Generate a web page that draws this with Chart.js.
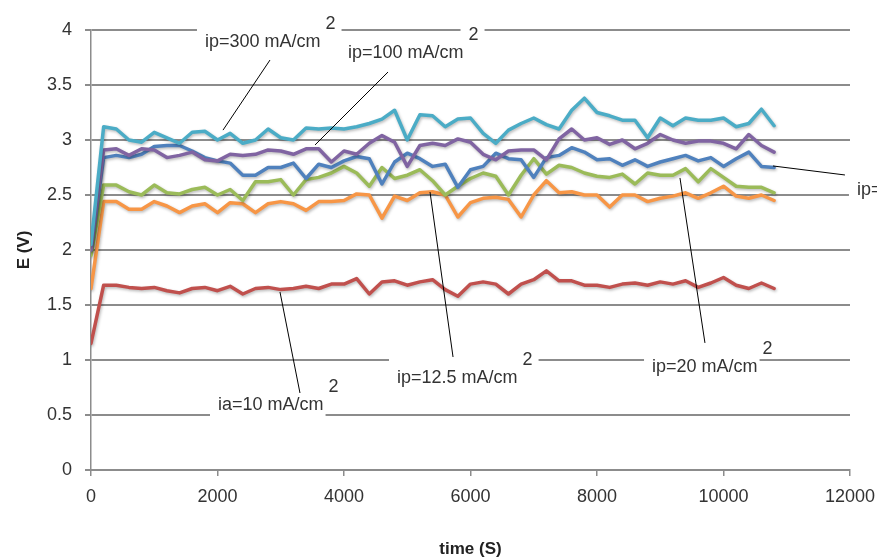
<!DOCTYPE html>
<html>
<head>
<meta charset="utf-8">
<script src="https://cdn.jsdelivr.net/npm/chart.js@4"></script>
<style>
  html, body { margin: 0; padding: 0; background: #fff; }
</style>
</head>
<body>
<canvas id="chart" width="877" height="558"></canvas>
<script>
// sampling times (s)
const times = [0, 200, 400, 600, 800, 1000, 1200, 1400, 1600, 1800, 2000, 2200, 2400, 2600, 2800, 3000,
  3200, 3400, 3600, 3800, 4000, 4200, 4400, 4600, 4800, 5000, 5200, 5400, 5600, 5800, 6000, 6200,
  6400, 6600, 6800, 7000, 7200, 7400, 7600, 7800, 8000, 8200, 8400, 8600, 8800, 9000, 9200, 9400,
  9600, 9800, 10000, 10200, 10400, 10600, 10800];

// E (V) for each current density
const ip300 = [2.05, 3.12, 3.1, 3.0, 2.98, 3.07, 3.02, 2.97, 3.07, 3.08, 3.0, 3.06, 2.97, 3.0, 3.1, 3.02,
  3.0, 3.11, 3.1, 3.11, 3.1, 3.12, 3.15, 3.19, 3.27, 3.0, 3.23, 3.22, 3.12, 3.19, 3.2, 3.06,
  2.97, 3.09, 3.15, 3.2, 3.14, 3.1, 3.27, 3.38, 3.25, 3.22, 3.18, 3.18, 3.02, 3.2, 3.13, 3.2,
  3.18, 3.18, 3.2, 3.12, 3.15, 3.28, 3.13];
const ip100 = [2.0, 2.91, 2.92, 2.86, 2.92, 2.91, 2.84, 2.86, 2.89, 2.82, 2.81, 2.87, 2.86, 2.87, 2.91, 2.9,
  2.87, 2.92, 2.92, 2.8, 2.9, 2.87, 2.97, 3.04, 2.98, 2.76, 2.95, 2.97, 2.95, 3.01, 2.98, 2.87,
  2.82, 2.9, 2.91, 2.91, 2.82, 3.01, 3.1, 3.0, 3.02, 2.96, 3.0, 2.92, 2.97, 3.05, 3.0, 2.97,
  2.99, 2.99, 2.97, 2.92, 3.05, 2.95, 2.89];
const ipRight = [2.0, 2.84, 2.86, 2.84, 2.87, 2.94, 2.95, 2.95, 2.9, 2.84, 2.81, 2.79, 2.68, 2.68, 2.75, 2.75,
  2.79, 2.65, 2.78, 2.75, 2.81, 2.85, 2.83, 2.6, 2.8, 2.88, 2.83, 2.76, 2.78, 2.57, 2.73, 2.76,
  2.88, 2.83, 2.82, 2.66, 2.84, 2.86, 2.93, 2.89, 2.82, 2.83, 2.77, 2.82, 2.76, 2.8, 2.83, 2.86,
  2.81, 2.84, 2.76, 2.83, 2.89, 2.76, 2.75];
const ip20 = [1.95, 2.59, 2.59, 2.53, 2.5, 2.59, 2.52, 2.51, 2.55, 2.57, 2.5, 2.55, 2.45, 2.62, 2.62, 2.64,
  2.5, 2.64, 2.66, 2.7, 2.76, 2.7, 2.58, 2.75, 2.65, 2.68, 2.73, 2.63, 2.5, 2.58, 2.65, 2.7,
  2.67, 2.5, 2.68, 2.83, 2.69, 2.77, 2.75, 2.7, 2.67, 2.66, 2.69, 2.6, 2.7, 2.68, 2.68, 2.74,
  2.62, 2.74, 2.66, 2.58, 2.57, 2.57, 2.52];
const ip12_5 = [1.65, 2.44, 2.44, 2.37, 2.37, 2.44, 2.4, 2.34, 2.4, 2.42, 2.34, 2.43, 2.42, 2.34, 2.42, 2.44,
  2.42, 2.36, 2.44, 2.44, 2.45, 2.51, 2.5, 2.29, 2.49, 2.45, 2.52, 2.53, 2.5, 2.3, 2.43, 2.47,
  2.48, 2.46, 2.3, 2.5, 2.63, 2.52, 2.53, 2.5, 2.5, 2.39, 2.5, 2.5, 2.44, 2.47, 2.49, 2.52,
  2.47, 2.52, 2.58, 2.49, 2.47, 2.5, 2.45];
const ia10 = [1.15, 1.68, 1.68, 1.66, 1.65, 1.66, 1.63, 1.61, 1.65, 1.66, 1.63, 1.67, 1.6, 1.65, 1.66, 1.64,
  1.65, 1.67, 1.65, 1.69, 1.69, 1.74, 1.6, 1.71, 1.72, 1.68, 1.71, 1.73, 1.64, 1.58, 1.69, 1.71,
  1.69, 1.6, 1.69, 1.73, 1.81, 1.72, 1.72, 1.68, 1.68, 1.66, 1.69, 1.7, 1.68, 1.71, 1.69, 1.72,
  1.66, 1.7, 1.75, 1.68, 1.65, 1.7, 1.65];

const xTickLabels = ['0', '2000', '4000', '6000', '8000', '10000', '12000'];
const yTickLabels = ['0', '0.5', '1', '1.5', '2', '2.5', '3', '3.5', '4'];

// callout labels, placed in data units: text anchor (left, middle) and leader line
const callouts = [
  { text: 'ip=300 mA/cm', sup: '2', at: [1802, 3.891], line: [[2830, 3.727], [2087, 3.09]] },
  { text: 'ip=100 mA/cm', sup: '2', at: [4063, 3.791], line: [[4696, 3.618], [3542, 2.955]] },
  { text: 'ip=', sup: '', at: [12110, 2.545], line: [[10782, 2.764], [11920, 2.682]] },
  { text: 'ip=12.5 mA/cm', sup: '2', at: [4838, 0.836], line: [[5360, 2.527], [5724, 1.027]] },
  { text: 'ia=10 mA/cm', sup: '2', at: [2008, 0.591], line: [[2988, 1.618], [3304, 0.70]] },
  { text: 'ip=20 mA/cm', sup: '2', at: [8870, 0.936], line: [[9312, 2.655], [9707, 1.155]] }
];

function pts(vals) {
  return vals.map((v, i) => ({ x: times[i], y: v }));
}

function series(label, vals, color) {
  return {
    label: label,
    data: pts(vals),
    borderColor: color,
    backgroundColor: color,
    borderWidth: 3.5,
    pointRadius: 0,
    tension: 0,
    borderJoinStyle: 'round',
    borderCapStyle: 'round'
  };
}

const gridGray = '#8c8c8c';
const labelFont = '18px "Liberation Sans", Arial, sans-serif';

const lineShadow = {
  id: 'lineShadow',
  beforeDatasetDraw(chart) {
    const c = chart.ctx;
    c.save();
    c.shadowColor = 'rgba(0,0,0,0.28)';
    c.shadowBlur = 3;
    c.shadowOffsetX = 1;
    c.shadowOffsetY = 1.5;
  },
  afterDatasetDraw(chart) {
    chart.ctx.restore();
  }
};

const calloutPlugin = {
  id: 'callouts',
  afterDraw(chart) {
    const ctx = chart.ctx;
    const x = chart.scales.x, y = chart.scales.y;
    ctx.save();
    ctx.font = labelFont;
    ctx.textBaseline = 'middle';
    // white boxes that hide the gridlines behind the labels
    ctx.fillStyle = '#fff';
    callouts.forEach(c => {
      const tx = x.getPixelForValue(c.at[0]), ty = y.getPixelForValue(c.at[1]);
      const w = ctx.measureText(c.text).width;
      ctx.fillRect(tx - 8, ty - 21, w + 10, 34);
      if (c.sup) {
        const sw = ctx.measureText(c.sup).width;
        ctx.fillRect(tx + w + 5 - 8, ty - 18 - 10, sw + 14, 20);
      }
    });
    // leader lines
    ctx.strokeStyle = '#000';
    ctx.lineWidth = 1;
    callouts.forEach(c => {
      ctx.beginPath();
      ctx.moveTo(x.getPixelForValue(c.line[0][0]), y.getPixelForValue(c.line[0][1]));
      ctx.lineTo(x.getPixelForValue(c.line[1][0]), y.getPixelForValue(c.line[1][1]));
      ctx.stroke();
    });
    ctx.fillStyle = '#333';
    callouts.forEach(c => {
      const tx = x.getPixelForValue(c.at[0]), ty = y.getPixelForValue(c.at[1]);
      const w = ctx.measureText(c.text).width;
      ctx.fillText(c.text, tx, ty);
      if (c.sup) ctx.fillText(c.sup, tx + w + 5, ty - 18);
    });
    ctx.restore();
  }
};

new Chart(document.getElementById('chart'), {
  type: 'line',
  data: {
    datasets: [
      series('ip=300 mA/cm2', ip300, '#4BACC6'),
      series('ip=100 mA/cm2', ip100, '#8064A2'),
      series('ip=', ipRight, '#4F81BD'),
      series('ip=20 mA/cm2', ip20, '#9BBB59'),
      series('ip=12.5 mA/cm2', ip12_5, '#F79646'),
      series('ia=10 mA/cm2', ia10, '#C0504D')
    ]
  },
  options: {
    responsive: false,
    animation: false,
    layout: { padding: { top: 30, right: 27, left: 0, bottom: 0 } },
    plugins: {
      legend: { display: false },
      tooltip: { enabled: false }
    },
    scales: {
      x: {
        type: 'linear',
        min: 0,
        max: 12000,
        afterFit(scale) {
          scale.height = 88;
          scale.paddingLeft = 0;
          scale.paddingRight = 0;
        },
        ticks: {
          stepSize: 2000,
          padding: 10,
          color: '#333',
          font: { family: '"Liberation Sans", Arial, sans-serif', size: 18 },
          maxRotation: 0,
          callback: (v, i) => xTickLabels[i]
        },
        grid: { drawOnChartArea: false, drawTicks: true, tickLength: 6, color: gridGray, lineWidth: 1.5 },
        border: { display: true, color: gridGray, width: 2 },
        title: {
          display: true,
          text: 'time (S)',
          color: '#222',
          font: { family: '"Liberation Sans", Arial, sans-serif', size: 17, weight: 'bold' },
          padding: { top: 0, bottom: -2 }
        }
      },
      y: {
        min: 0,
        max: 4,
        afterFit(scale) { scale.width = 91; },
        ticks: {
          stepSize: 0.5,
          padding: 13,
          color: '#333',
          font: { family: '"Liberation Sans", Arial, sans-serif', size: 18 },
          callback: (v, i) => yTickLabels[i]
        },
        grid: { color: gridGray, lineWidth: 2, tickLength: 6 },
        border: { display: true, color: gridGray, width: 1.5 },
        title: {
          display: true,
          text: 'E (V)',
          color: '#222',
          font: { family: '"Liberation Sans", Arial, sans-serif', size: 17, weight: 'bold' },
          padding: { top: 14, bottom: 0 }
        }
      }
    }
  },
  plugins: [lineShadow, calloutPlugin]
});
</script>
</body>
</html>
